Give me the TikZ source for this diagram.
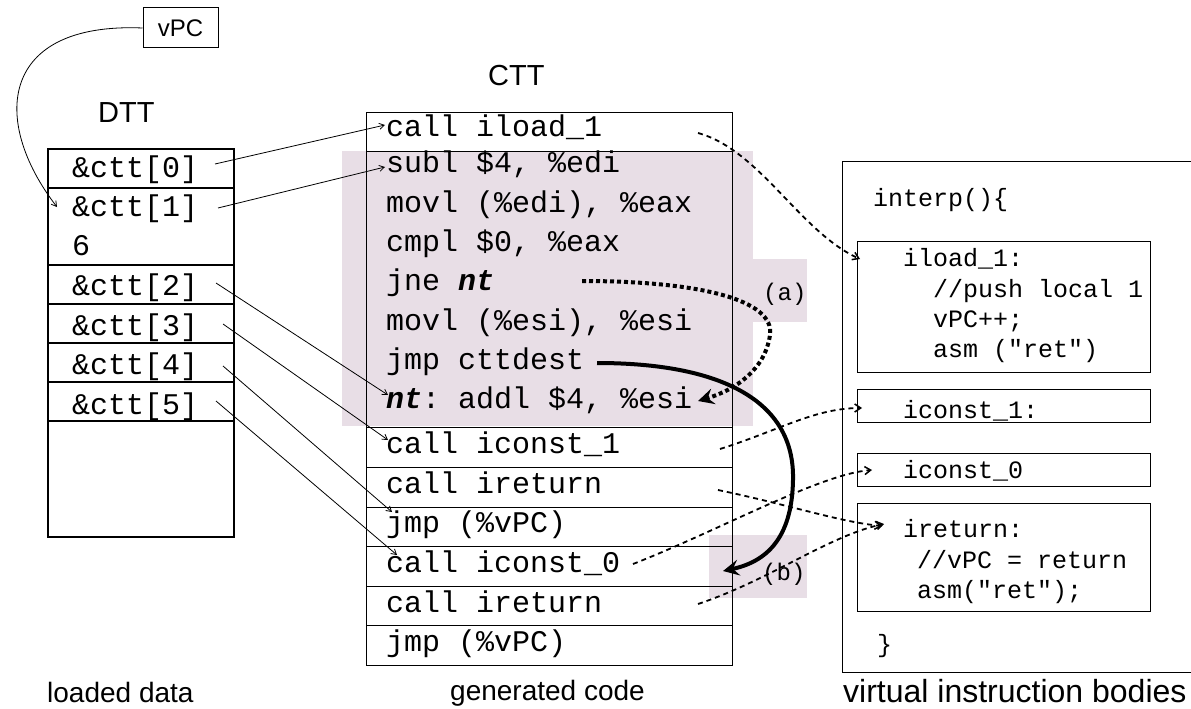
\documentclass[tikz,border=0pt]{standalone}
\usepackage{fontspec}
\setmainfont{Liberation Sans}
\setmonofont{Liberation Mono}
\usetikzlibrary{arrows.meta}
\definecolor{shade}{RGB}{232,222,230}
\begin{document}
\begin{tikzpicture}[x=1pt,y=-1pt,
  mono/.style={font=\ttfamily\fontsize{30}{36}\selectfont,anchor=base west,inner sep=0pt},
  smono/.style={font=\ttfamily\fontsize{25}{30}\selectfont,anchor=base west,inner sep=0pt},
  lbl/.style={font=\fontsize{28}{34}\selectfont,anchor=base west,inner sep=0pt},
  dttrow/.style={draw,line width=2.4pt,anchor=north west,inner sep=0pt,minimum width=186pt},
  cttrow/.style={draw,line width=1.3pt,anchor=north west,inner sep=0pt,minimum width=366pt},
  body/.style={draw,line width=1pt,anchor=north west,inner sep=0pt,minimum width=293pt},
  pinkbox/.style={fill=shade,anchor=north west,inner sep=0pt,draw=none},
  ptr/.style={line width=0.8pt,-{Straight Barb[length=5pt,width=6pt]}},
  call/.style={line width=1.8pt,dash pattern=on 5pt off 4pt,-{Straight Barb[length=6pt,width=8pt,line width=1.5pt]}},
  jumpa/.style={line width=4pt,dash pattern=on 4pt off 3pt,-{Stealth[length=16pt,width=16pt,inset=6pt]}},
  jumpb/.style={line width=4pt,-{Stealth[length=16pt,width=16pt,inset=6pt]}}
]
\useasboundingbox (0,0) rectangle (1191,709);
% shading
\node[pinkbox,minimum width=411pt,minimum height=275pt] (pk) at (342,151) {};
\node[pinkbox,minimum width=54pt,minimum height=63pt] (pka) at (753,259) {};
\node[pinkbox,minimum width=98pt,minimum height=63pt] (pkb) at (709,535) {};
% vPC
\node[draw,line width=1pt,minimum width=75pt,minimum height=40pt,inner sep=0pt,font=\fontsize{24}{28}\selectfont] (vpc) at (180.5,28) {vPC};
% DTT
\node[lbl,font=\fontsize{29}{34}\selectfont] (dttl) at (98,122) {DTT};
\node[dttrow,minimum height=39pt] (d0) at (47,148) {};
\node[dttrow,minimum height=77pt] (d1) at (47,187) {};
\node[dttrow,minimum height=39pt] (d2) at (47,264) {};
\node[dttrow,minimum height=39pt] (d3) at (47,303) {};
\node[dttrow,minimum height=39pt] (d4) at (47,342) {};
\node[dttrow,minimum height=39pt] (d5) at (47,381) {};
\node[dttrow,minimum height=116pt] (d6) at (47,420) {};
\node[mono] (td0) at (72,177) {\&ctt[0]};
\node[mono] (td1) at (72,216) {\&ctt[1]};
\node[mono] (td6) at (72,255) {6};
\node[mono] (td2) at (72,295) {\&ctt[2]};
\node[mono] (td3) at (72,335) {\&ctt[3]};
\node[mono] (td4) at (72,374) {\&ctt[4]};
\node[mono] (td5) at (72,414) {\&ctt[5]};
\node[lbl] (ldl) at (47,702) {loaded data};
% CTT
\node[lbl,font=\fontsize{29}{34}\selectfont] (cttl) at (488,85) {CTT};
\node[cttrow,minimum height=39pt] (c0) at (366,112) {};
\node[cttrow,minimum height=276pt] (cb) at (366,151) {};
\node[cttrow,minimum height=40pt] (c1) at (366,427) {};
\node[cttrow,minimum height=40pt] (c2) at (366,467) {};
\node[cttrow,minimum height=39pt] (c3) at (366,507) {};
\node[cttrow,minimum height=40pt] (c4) at (366,546) {};
\node[cttrow,minimum height=39pt] (c5) at (366,586) {};
\node[cttrow,minimum height=40pt] (c6) at (366,625) {};
\node[mono] (tc0) at (386,136) {call iload\_1};
\node[mono] (tb1) at (386,172) {subl \$4, \%edi};
\node[mono] (tb2) at (386,212) {movl (\%edi), \%eax};
\node[mono] (tb3) at (386,251) {cmpl \$0, \%eax};
\node[mono] (tb4) at (386,290) {jne {\bfseries\itshape nt}};
\node[mono] (tb5) at (386,330) {movl (\%esi), \%esi};
\node[mono] (tb6) at (386,369) {jmp cttdest};
\node[mono] (tb7) at (386,408) {{\bfseries\itshape nt}: addl \$4, \%esi};
\node[mono] (tc1) at (386,453) {call iconst\_1};
\node[mono] (tc2) at (386,493) {call ireturn};
\node[mono] (tc3) at (386,532) {jmp (\%vPC)};
\node[mono] (tc4) at (386,572) {call iconst\_0};
\node[mono] (tc5) at (386,612) {call ireturn};
\node[mono] (tc6) at (386,651) {jmp (\%vPC)};
\node[lbl] (gcl) at (450,700) {generated code};
\node[smono,font=\ttfamily\fontsize{24}{28}\selectfont] (la) at (763,300) {(a)};
\node[smono,font=\ttfamily\fontsize{24}{28}\selectfont] (lb) at (762,580) {(b)};
% virtual instruction bodies
\node[draw,line width=1pt,anchor=north west,inner sep=0pt,minimum width=370pt,minimum height=511pt] (vib) at (842,161) {};
\node[body,minimum height=131pt] (b1) at (857,241) {};
\node[body,minimum height=33pt] (b2) at (857,389) {};
\node[body,minimum height=33pt] (b3) at (857,453) {};
\node[body,minimum height=108pt] (b4) at (857,503) {};
\node[smono] (ti0) at (873,206) {interp()\{};
\node[smono] (ti1) at (903,266) {iload\_1:};
\node[smono] (ti2) at (933,297) {//push local 1};
\node[smono] (ti3) at (933,327) {vPC++;};
\node[smono] (ti4) at (933,357) {asm ("ret")};
\node[smono] (ti5) at (903,418) {iconst\_1:};
\node[smono] (ti6) at (903,478) {iconst\_0};
\node[smono] (ti7) at (903,537) {ireturn:};
\node[smono] (ti8) at (917,568) {//vPC = return};
\node[smono] (ti9) at (917,598) {asm("ret");};
\node[smono] (ti10) at (877,652) {\}};
\node[lbl,font=\fontsize{32}{38}\selectfont] (vibl) at (843,702) {virtual instruction bodies};
% connector end points
\coordinate (tv) at (57,207);
\coordinate (s0) at (215,164); \coordinate (t0) at (385,125);
\coordinate (s1) at (218,208); \coordinate (t1) at (385,167);
\coordinate (s2) at (216,283); \coordinate (t2) at (388,395);
\coordinate (s3) at (223,324); \coordinate (t3) at (388,440);
\coordinate (s4) at (223,366); \coordinate (t4) at (392,512);
\coordinate (s5) at (216,401); \coordinate (t5) at (397,555);
\coordinate (e0) at (698,133); \coordinate (f0) at (860,259);
\coordinate (e1) at (720,449); \coordinate (f1) at (862,408);
\coordinate (e2) at (718,490); \coordinate (f2) at (882,526);
\coordinate (e3) at (633,564); \coordinate (f3) at (872,470);
\coordinate (e4) at (698,604); \coordinate (f4) at (884,524);
\coordinate (ja) at (582,281); \coordinate (ka) at (698,401);
\coordinate (jb) at (597,363); \coordinate (kb) at (723,571);
% connectors
\draw[ptr] (vpc.west) .. controls (0,22) and (-10,120) .. (tv);
\draw[ptr] (s0) -- (t0);
\draw[ptr] (s1) -- (t1);
\draw[ptr] (s2) -- (t2);
\draw[ptr] (s3) -- (t3);
\draw[ptr] (s4) -- (t4);
\draw[ptr] (s5) -- (t5);
\draw[call] (e0) .. controls (760,150) and (800,232) .. (f0);
\draw[call] (e1) .. controls (780,430) and (815,408) .. (f1);
\draw[call] (e2) .. controls (790,505) and (840,522) .. (f2);
\draw[call] (e3) .. controls (720,530) and (820,474) .. (f3);
\draw[call] (e4) .. controls (770,580) and (830,535) .. (f4);
\draw[jumpa] (ja) .. controls (700,281) and (775,300) .. (770,335) .. controls (765,370) and (735,390) .. (ka);
\draw[jumpb] (jb) .. controls (720,363) and (795,400) .. (793,480) .. controls (792,540) and (765,562) .. (kb);
\end{tikzpicture}
\end{document}
